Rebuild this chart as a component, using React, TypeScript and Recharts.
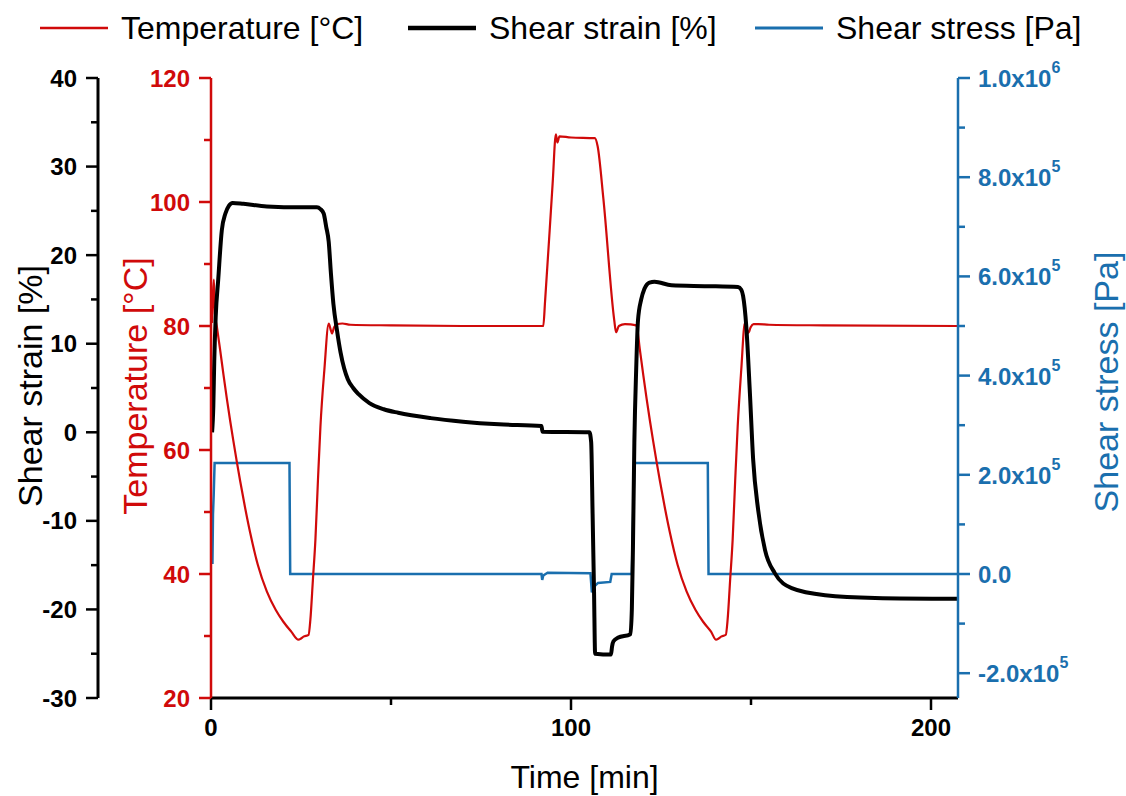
import React from 'react';
import { ComposedChart, Line, XAxis, YAxis, Legend } from 'recharts';

// ---------- data ----------
const tempTime = [0.3, 0.8, 1.1, 1.6, 2.5, 3.5, 4.4, 5.3, 6.2, 7.2, 8.1, 9.5, 10.9, 13, 15.5, 18, 20.1, 22.3, 24.3, 25, 25.7, 27.1, 27.6, 28.3, 29, 29.7, 30.4, 31.5, 32.7, 33.2, 33.6, 34.2, 35, 36.5, 38.7, 50, 70, 92.3, 92.8, 94.9, 95.8, 96.2, 96.8, 100, 106.6, 107.4, 109, 112.0, 112.5, 113.3, 115, 118.2, 119.1, 120.1, 121, 121.9, 122.8, 123.8, 124.7, 126.1, 127.5, 129.6, 132.1, 134.6, 136.7, 138.9, 140.3, 141, 141.7, 143, 143.5, 144.2, 144.9, 145.6, 146.3, 147.3, 148.3, 148.8, 149.3, 149.9, 150.7, 152, 155, 170, 207.5];
const tempC = [80.5, 87.5, 82, 80, 76.3, 72.0, 68.3, 64.8, 61.5, 58.0, 55.0, 50.6, 46.6, 41.5, 37.2, 34.2, 32.3, 30.7, 29.4, 29.6, 29.9, 30.2, 32.6, 39, 45.5, 55, 63.8, 73, 80.4, 79.5, 78.8, 79.8, 80.3, 80.4, 80.2, 80.1, 80.0, 80.0, 84, 103, 110.9, 109.6, 110.6, 110.4, 110.3, 109, 100.5, 81, 79, 80, 80.3, 80.1, 76.3, 72.0, 68.3, 64.8, 61.5, 58.0, 55.0, 50.6, 46.6, 41.5, 37.2, 34.2, 32.3, 30.7, 29.4, 29.6, 29.9, 30.2, 32.6, 39, 45.5, 55, 63.8, 73, 80.5, 79.5, 78.9, 79.8, 80.3, 80.3, 80.2, 80.1, 80.0];

const strainTime = [0.3, 0.65, 0.9, 1.3, 2.0, 3.0, 4.0, 5.0, 6.0, 9.0, 15.5, 25, 29.4, 30.4, 31.3, 32.0, 32.7, 33.3, 34, 35, 36, 37, 38, 39.5, 41, 44, 48, 52, 61, 70, 80, 91.8, 92.1, 105.1, 105.6, 106, 106.4, 106.7, 111.1, 111.4, 111.8, 113, 116.5, 116.9, 117.2, 117.6, 118.1, 118.6, 119.5, 120.4, 121.8, 123.2, 127.9, 137.1, 146.4, 147.3, 147.8, 148.7, 149.7, 150.6, 152, 153.9, 156.6, 161.3, 170.6, 184.5, 207.5];
const strainPct = [0, 3, 8, 13, 17.2, 22.8, 24.7, 25.6, 25.9, 25.8, 25.5, 25.4, 25.4, 25.2, 24.7, 23.2, 21.5, 18, 14.5, 11.5, 9, 7.2, 6, 5, 4.3, 3.3, 2.6, 2.2, 1.6, 1.2, 0.9, 0.7, 0.05, 0.0, -1.1, -9.2, -18, -25.0, -25.1, -24.2, -23.6, -23.2, -22.8, -20, -13.2, -1.1, 7, 12.6, 15, 16.2, 16.9, 17.0, 16.6, 16.5, 16.4, 16.1, 15.4, 11.9, 4.4, -3.1, -8.8, -13.3, -15.9, -17.6, -18.4, -18.7, -18.8];

const stressTime = [0.4, 0.55, 0.75, 1.0, 21.8, 22.0, 91.8, 92.0, 92.3, 93.5, 105.4, 105.8, 106.5, 107.5, 110.9, 111.3, 116.9, 117.6, 138.0, 138.2, 207.5];
const stressPa = [20000, 120000, 160000, 224000, 224000, 0, 0, -12000, -3000, 2500, 1500, -37000, -25000, -18000, -16000, 0, 0, 224000, 224000, 0, 0];

const xTicks = [0, 50, 100, 150, 200];
const xLabeled = [0, 100, 200];
const strainTicks = [-30, -25, -20, -15, -10, -5, 0, 5, 10, 15, 20, 25, 30, 35, 40];
const strainLabeled = [-30, -20, -10, 0, 10, 20, 30, 40];
const tempTicks = [20, 30, 40, 50, 60, 70, 80, 90, 100, 110, 120];
const tempLabeled = [20, 40, 60, 80, 100, 120];
const stressTicks = [-200000, -100000, 0, 100000, 200000, 300000, 400000, 500000, 600000, 700000, 800000, 900000, 1000000];
const stressLabeled = [-200000, 0, 200000, 400000, 600000, 800000, 1000000];

const seriesNames = ['Temperature [°C]', 'Shear strain [%]', 'Shear stress [Pa]'];

const tempData = tempTime.map((t, i) => ({ t, v: tempC[i] }));
const strainData = strainTime.map((t, i) => ({ t, v: strainPct[i] }));
const stressData = stressTime.map((t, i) => ({ t, v: stressPa[i] }));

// ---------- style ----------
const RED = '#d00a0a';
const BLUE = '#1a6fae';
const BLACK = '#000000';
const FONT = '"Liberation Sans", Arial, Helvetica, sans-serif';
const TICK_FS = 24;
const TITLE_FS = 32;
const YTITLE_FS = 34;

const W = 1126;
const H = 796;

// axis ids: "a..." is placed nearest the plot, "b..." outside it
const TEMP_AXIS = 'a_temp';
const STRAIN_AXIS = 'b_strain';
const STRESS_AXIS = 'c_stress';

const makeLeftTick = (color: string, labeled: number[]) => (props: any) => {
  const { x, y, payload } = props;
  const v = payload.value;
  const major = labeled.includes(v);
  const len = major ? 12 : 7;
  return (
    <g>
      <line x1={x} x2={x - len} y1={y} y2={y} stroke={color} strokeWidth={2.5} />
      {major && (
        <text x={x - 21} y={y} textAnchor="end" dominantBaseline="central" fontFamily={FONT} fontWeight="bold" fontSize={TICK_FS} fill={color}>
          {v}
        </text>
      )}
    </g>
  );
};

const fmtStress = (v: number) => {
  if (v === 0) return { m: '0.0', e: '' };
  const e = Math.floor(Math.log10(Math.abs(v)));
  const m = (v / Math.pow(10, e)).toFixed(1);
  return { m: `${m}x10`, e: `${e}` };
};

const StressTick = (props: any) => {
  const { x, y, payload } = props;
  const v = payload.value;
  const major = stressLabeled.includes(v);
  const len = major ? 12 : 7;
  const f = fmtStress(v);
  return (
    <g>
      <line x1={x} x2={x + len} y1={y} y2={y} stroke={BLUE} strokeWidth={2.5} />
      {major && (
        <text x={x + 20} y={y} textAnchor="start" dominantBaseline="central" fontFamily={FONT} fontWeight="bold" fontSize={TICK_FS} fill={BLUE}>
          <tspan>{f.m}</tspan>
          {f.e && (
            <tspan dy={-11} fontSize={16}>
              {f.e}
            </tspan>
          )}
        </text>
      )}
    </g>
  );
};

const XTick = (props: any) => {
  const { x, y, payload } = props;
  const v = payload.value;
  const major = xLabeled.includes(v);
  const len = major ? 12 : 7;
  return (
    <g>
      <line x1={x} x2={x} y1={y} y2={y + len} stroke={BLACK} strokeWidth={2.5} />
      {major && (
        <text x={x} y={y + 29} textAnchor="middle" dominantBaseline="central" fontFamily={FONT} fontWeight="bold" fontSize={TICK_FS} fill={BLACK}>
          {v}
        </text>
      )}
    </g>
  );
};

const legendItems = [
  { name: seriesNames[0], color: RED, sw: 2.5, left: 40 },
  { name: seriesNames[1], color: BLACK, sw: 4.5, left: 408 },
  { name: seriesNames[2], color: BLUE, sw: 3, left: 755 },
];

const LegendContent = () => (
  <div style={{ position: 'relative', width: W, height: 56 }}>
    {legendItems.map((it) => (
      <div key={it.name} style={{ position: 'absolute', left: it.left, top: 8, height: 40, display: 'flex', alignItems: 'center' }}>
        <svg width={68} height={10} style={{ display: 'block' }}>
          <line x1={0} x2={68} y1={5} y2={5} stroke={it.color} strokeWidth={it.sw} />
        </svg>
        <span style={{ marginLeft: 13, fontFamily: FONT, fontSize: TITLE_FS, color: '#000', lineHeight: '40px', whiteSpace: 'nowrap' }}>{it.name}</span>
      </div>
    ))}
  </div>
);

const vTitle = (text: string, cx: number, cy: number, color: string) => () => (
  <text
    x={cx}
    y={cy}
    transform={`rotate(-90, ${cx}, ${cy})`}
    textAnchor="middle"
    dominantBaseline="central"
    fontFamily={FONT}
    fontSize={YTITLE_FS}
    fill={color}
  >
    {text}
  </text>
);

export default function App() {
  return (
    <div style={{ position: 'absolute', left: 0, top: 0, width: W, height: H, background: '#fff' }}>
      <ComposedChart width={W} height={H} margin={{ top: 78, right: 0, bottom: 0, left: 0 }}>
        <XAxis
          xAxisId="t"
          dataKey="t"
          type="number"
          domain={[0, 207.5]}
          allowDataOverflow
          ticks={xTicks}
          interval={0}
          height={98}
          tickSize={0}
          tickMargin={0}
          tickLine={false}
          tick={<XTick />}
          axisLine={{ stroke: BLACK, strokeWidth: 3 }}
          label={{
            content: () => (
              <text x={584.5} y={777} textAnchor="middle" dominantBaseline="central" fontFamily={FONT} fontSize={TITLE_FS} fill={BLACK}>
                Time [min]
              </text>
            ),
          }}
        />
        <YAxis
          yAxisId={TEMP_AXIS}
          orientation="left"
          type="number"
          domain={[20, 120]}
          allowDataOverflow
          ticks={tempTicks}
          interval={0}
          width={113}
          tickSize={0}
          tickMargin={0}
          tickLine={false}
          tick={makeLeftTick(RED, tempLabeled)}
          axisLine={{ stroke: RED, strokeWidth: 2.5 }}
          label={{ content: vTitle('Temperature [°C]', 135, 386, RED) }}
        />
        <YAxis
          yAxisId={STRAIN_AXIS}
          orientation="left"
          type="number"
          domain={[-30, 40]}
          allowDataOverflow
          ticks={strainTicks}
          interval={0}
          width={98}
          tickSize={0}
          tickMargin={0}
          tickLine={false}
          tick={makeLeftTick(BLACK, strainLabeled)}
          axisLine={{ stroke: BLACK, strokeWidth: 3 }}
          label={{ content: vTitle('Shear strain [%]', 30, 386, BLACK) }}
        />
        <YAxis
          yAxisId={STRESS_AXIS}
          orientation="right"
          type="number"
          domain={[-250000, 1000000]}
          allowDataOverflow
          ticks={stressTicks}
          interval={0}
          width={168}
          tickSize={0}
          tickMargin={0}
          tickLine={false}
          tick={<StressTick />}
          axisLine={{ stroke: BLUE, strokeWidth: 2.5 }}
          label={{ content: vTitle('Shear stress [Pa]', 1106, 382, BLUE) }}
        />
        <Legend
          layout="horizontal"
          align="center"
          verticalAlign="middle"
          wrapperStyle={{ top: 0, left: 0, width: W, height: 56 }}
          content={<LegendContent />}
        />
        <Line
          name={seriesNames[2]}
          data={stressData}
          dataKey="v"
          xAxisId="t"
          yAxisId={STRESS_AXIS}
          type="linear"
          stroke={BLUE}
          strokeWidth={2.5}
          dot={false}
          activeDot={false}
          isAnimationActive={false}
        />
        <Line
          name={seriesNames[0]}
          data={tempData}
          dataKey="v"
          xAxisId="t"
          yAxisId={TEMP_AXIS}
          type="monotone"
          stroke={RED}
          strokeWidth={2.2}
          dot={false}
          activeDot={false}
          isAnimationActive={false}
        />
        <Line
          name={seriesNames[1]}
          data={strainData}
          dataKey="v"
          xAxisId="t"
          yAxisId={STRAIN_AXIS}
          type="monotone"
          stroke={BLACK}
          strokeWidth={4}
          dot={false}
          activeDot={false}
          isAnimationActive={false}
        />
      </ComposedChart>
    </div>
  );
}
